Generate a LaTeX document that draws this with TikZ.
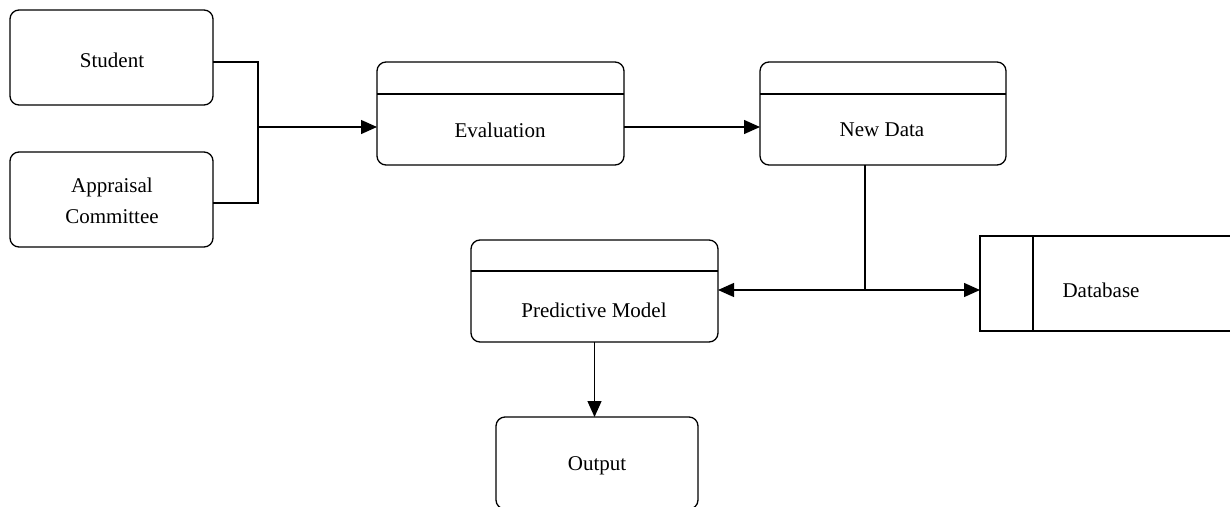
\documentclass[tikz,border=0pt]{standalone}
\usepackage{fontspec}
\setmainfont{Liberation Serif}
\usetikzlibrary{arrows.meta}
\tikzset{
  box/.style={draw, line width=1.3pt, rounded corners=9pt, inner sep=0pt, outer sep=0pt},
  sqbox/.style={draw, line width=1.3pt, inner sep=0pt, outer sep=0pt},
  lbl/.style={align=center, inner sep=0pt, font=\fontsize{21pt}{31pt}\selectfont},
  conn/.style={line width=1.3pt},
  arr/.style={line width=1.3pt, -{Triangle[length=16pt,width=14pt]}}
}
\begin{document}
\begin{tikzpicture}[x=1pt,y=-1pt]
\useasboundingbox (0,0) rectangle (1230,506);
\clip (0,0) rectangle (1230,506);
% boxes
\node[box, minimum width=203pt, minimum height=95pt] (student) at (111.5,57.5) {};
\node[box, minimum width=203pt, minimum height=95pt] (appr) at (111.5,199.5) {};
\node[box, minimum width=247pt, minimum height=103pt] (eval) at (500.5,113.5) {};
\node[box, minimum width=246pt, minimum height=103pt] (nd) at (883,113.5) {};
\node[box, minimum width=247pt, minimum height=102pt] (pm) at (594.5,291) {};
\node[sqbox, minimum width=300pt, minimum height=95pt] (db) at (1130,283.5) {};
\node[box, minimum width=202pt, minimum height=92pt] (out) at (597,463) {};
% dividers
\draw[conn] (eval.west |- 0,94) -- (eval.east |- 0,94);
\draw[conn] (nd.west |- 0,94) -- (nd.east |- 0,94);
\draw[conn] (pm.west |- 0,271) -- (pm.east |- 0,271);
\draw[conn] (1033,0 |- db.north) -- (1033,0 |- db.south);
% labels
\node[lbl] (tstudent) at (112,60) {Student};
\node[lbl] (tappr) at (112,201) {Appraisal\\Committee};
\node[lbl] (teval) at (500,130) {Evaluation};
\node[lbl] (tnd) at (882,130) {New Data};
\node[lbl] (tpm) at (594,310) {Predictive Model};
\node[lbl] (tdb) at (1101,290) {Database};
\node[lbl] (tout) at (597,466) {Output};
% connectors
\coordinate (j1) at (258,127);
\coordinate (j2) at (865,290);
\draw[conn] ([yshift=-4.5pt]student.east) -| (j1) |- ([yshift=-3.5pt]appr.east);
\draw[arr] (j1) -- (j1 -| eval.west);
\draw[arr] ([yshift=-13.5pt]eval.east) -- ([yshift=-13.5pt]nd.west);
\draw[conn] (j2 |- nd.south) -- (j2);
\draw[arr] (j2) -- (j2 -| pm.east);
\draw[arr] (j2) -- (j2 -| db.west);
\draw[arr] (pm.south) -- (pm.south |- out.north);
\end{tikzpicture}
\end{document}
